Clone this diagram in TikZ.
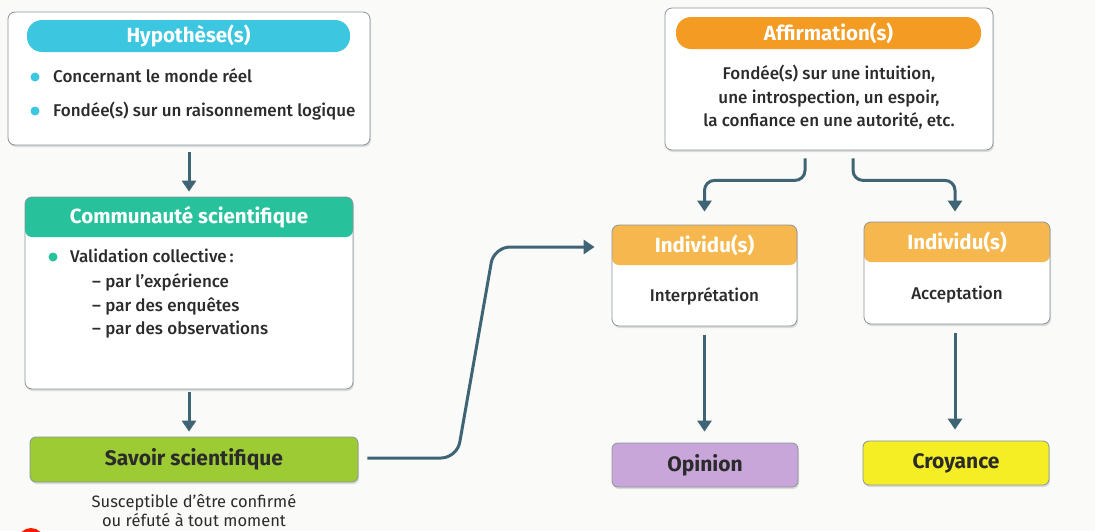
\documentclass[tikz,border=0pt]{standalone}
\usepackage{fontspec}
\setmainfont{Fira Sans}
\newfontfamily\medfont{Fira Sans Medium}
\usetikzlibrary{shadows,arrows.meta}
\definecolor{cyanh}{HTML}{3CC6E0}
\definecolor{greenh}{HTML}{27C29B}
\definecolor{orangeh}{HTML}{F39B22}
\definecolor{indh}{HTML}{F6B84E}
\definecolor{limeh}{HTML}{9CCB34}
\definecolor{purph}{HTML}{C8A6DA}
\definecolor{yelh}{HTML}{F5EE24}
\definecolor{arrc}{HTML}{3F6475}
\definecolor{bord}{HTML}{8A9499}
\definecolor{txt}{HTML}{2B2B2B}
\definecolor{bg}{HTML}{FAFAF8}
\tikzset{
  card/.style={draw=bord, line width=0.8pt, rounded corners=7pt, fill=white,
    drop shadow={opacity=0.25,shadow xshift=1pt,shadow yshift=-2pt}, inner sep=0pt},
  hdr/.style={path picture={\fill[#1] (path picture bounding box.north west) rectangle ([yshift=-40pt]path picture bounding box.north east);}},
  pill/.style={rounded corners=15pt, inner sep=0pt, text=white, font=\bfseries\fontsize{20.5}{24}\selectfont},
  htext/.style={text=white, font=\bfseries\fontsize{20.5}{24}\selectfont, inner sep=0pt},
  body/.style={text=txt, font=\medfont\fontsize{17}{23.5}\selectfont, inner sep=0pt},
  endbox/.style={draw=bord, line width=0.8pt, rounded corners=6pt, inner sep=0pt, text=txt,
    font=\bfseries\fontsize{21}{24}\selectfont,
    drop shadow={opacity=0.25,shadow xshift=1pt,shadow yshift=-2pt}},
  conn/.style={draw=arrc, line width=3pt, -{Triangle[width=14pt,length=11pt]}},
}
\begin{document}
\begin{tikzpicture}[x=1pt,y=-1pt]
\fill[bg] (0,0) rectangle (1095,531);
\useasboundingbox (0,0) rectangle (1095,531);

% Hypothese
\node[card, minimum width=362pt, minimum height=133pt] (hyp) at (189,78.5) {};
\node[pill, fill=cyanh, minimum width=323pt, minimum height=32pt] (hyph) at (188.5,36) {Hypothèse(s)};
\fill[cyanh] (35,77) circle (4.5);
\fill[cyanh] (35,111) circle (4.5);
\node[body, anchor=base west] (h1) at (53,82) {Concernant le monde réel};
\node[body, anchor=base west] (h2) at (53,116) {Fondée(s) sur un raisonnement logique};

% Communaute
\node[card, hdr=greenh, minimum width=328pt, minimum height=192pt] (com) at (189,293) {};
\node[htext] (comh) at (189,217) {Communauté scientifique};
\fill[greenh] (53,257) circle (4.5);
\node[body, anchor=base west] (c1) at (70,262) {Validation collective\,:};
\node[body, anchor=base west] (c2) at (92,287) {– par l’expérience};
\node[body, anchor=base west] (c3) at (92,311) {– par des enquêtes};
\node[body, anchor=base west] (c4) at (92,334) {– par des observations};

% Savoir
\node[endbox, fill=limeh, minimum width=328pt, minimum height=45pt] (sav) at (194,459.5) {Savoir scientifique};
\node[body, font=\fontsize{16.5}{19}\selectfont, anchor=base] (savt1) at (194,507) {Susceptible d’être confirmé};
\node[body, font=\fontsize{16.5}{19}\selectfont, anchor=base] (savt2) at (194,526) {ou réfuté à tout moment};

% Affirmation
\node[card, minimum width=328pt, minimum height=142pt] (aff) at (829,79) {};
\node[pill, fill=orangeh, minimum width=305pt, minimum height=32pt] (affh) at (828.5,33) {Affirmation(s)};
\node[body, anchor=base] (aff1) at (829,79) {Fondée(s) sur une intuition,};
\node[body, anchor=base] (aff2) at (829,103) {une introspection, un espoir,};
\node[body, anchor=base] (aff3) at (829,126) {la confiance en une autorité, etc.};

% Individus
\node[card, hdr=indh, minimum width=185pt, minimum height=101pt] (ind1) at (704.5,275.5) {};
\node[htext] (ind1h) at (704.5,245) {Individu(s)};
\node[body, anchor=base] (ind1t) at (704.5,301) {Interprétation};
\node[card, hdr=indh, minimum width=186pt, minimum height=102pt] (ind2) at (957,273) {};
\node[htext] (ind2h) at (957,242) {Individu(s)};
\node[body, anchor=base] (ind2t) at (957,299) {Acceptation};

% End boxes
\node[endbox, fill=purph, minimum width=186pt, minimum height=44pt] (opi) at (705,465) {Opinion};
\node[endbox, fill=yelh, minimum width=186pt, minimum height=44pt] (cro) at (956,463) {Croyance};

% Connectors
\draw[conn, shorten <=7pt, shorten >=5pt] (hyp.south) -- (com.north);
\draw[conn, shorten <=3pt, shorten >=5pt] (com.south) -- ([xshift=-5pt]sav.north);
\coordinate (b1) at (457,458);
\coordinate (b2) at (494,247);
\draw[conn, rounded corners=16pt, shorten <=9pt] (sav.east |- b1) -- (b1) -- (b2) -- ([xshift=-17pt]ind1.west |- b2);
\draw[conn, rounded corners=10pt, shorten <=8pt] ([xshift=-24pt]aff.south) -- ++(0,30) -| ([yshift=13pt]ind1.north);
\draw[conn, rounded corners=10pt, shorten <=8pt] ([xshift=24pt]aff.south) -- ++(0,30) -| ([xshift=-2pt,yshift=10pt]ind2.north);
\draw[conn, shorten <=9pt, shorten >=11pt] (ind1.south) -- (ind1.south |- opi.north);
\draw[conn, shorten <=9pt, shorten >=11pt] ([xshift=-2pt]ind2.south) -- ([xshift=-2pt]ind2.south |- cro.north);

% partial red mark at bottom left
\begin{scope}
\clip (0,0) rectangle (1095,531);
\fill[red!80!orange] (31,541) circle (13);
\end{scope}
\end{tikzpicture}
\end{document}
